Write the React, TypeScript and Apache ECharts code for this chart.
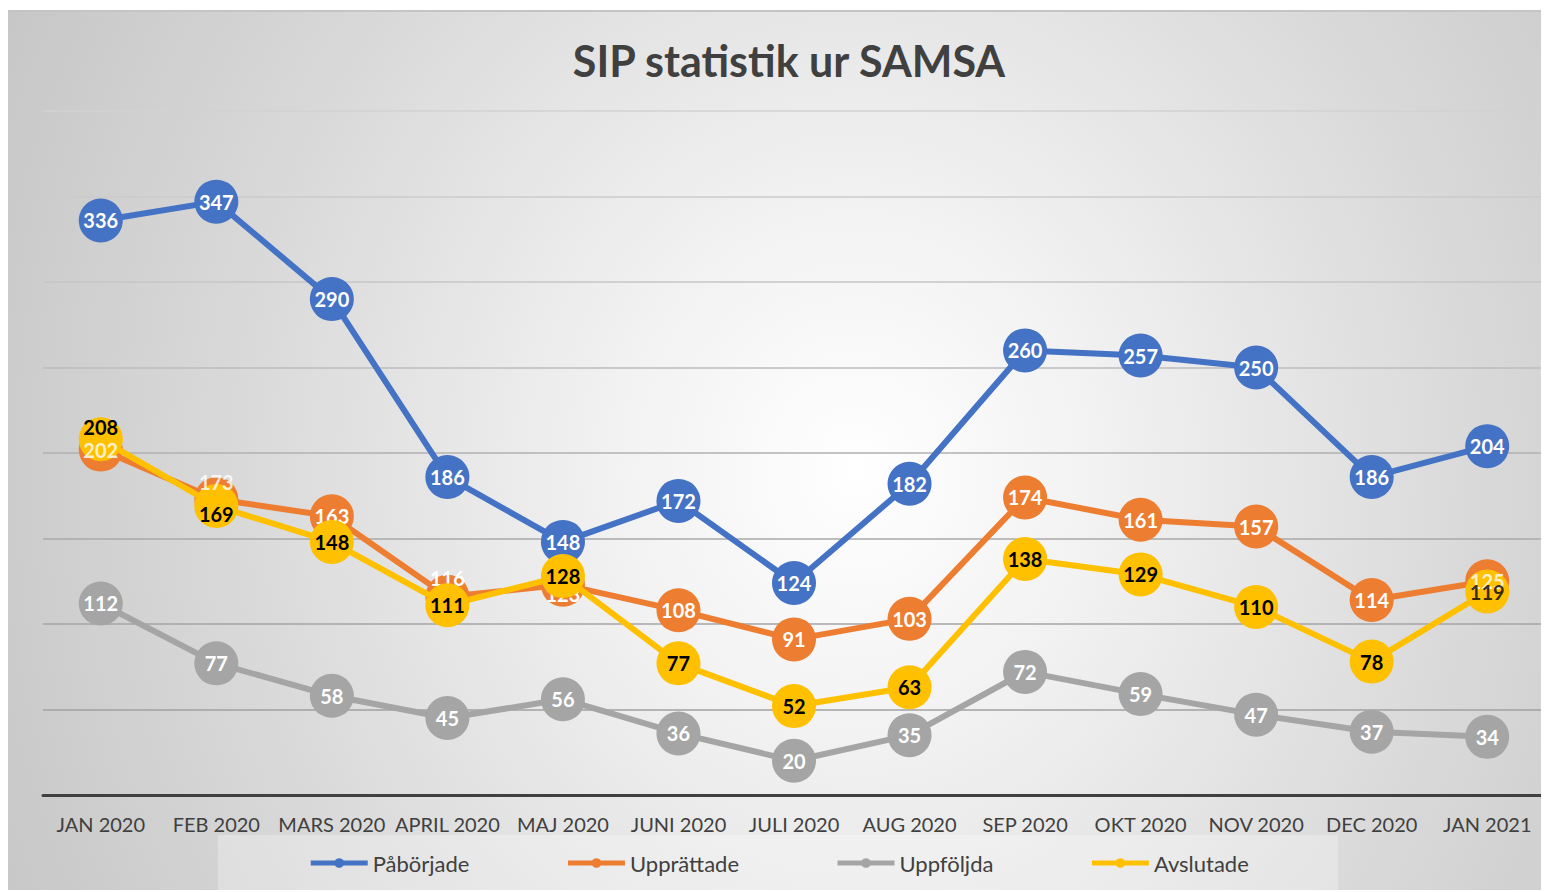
import React, { useEffect, useRef } from "react";
import * as echarts from "echarts";

const categories = [
  "JAN 2020", "FEB 2020", "MARS 2020", "APRIL 2020", "MAJ 2020", "JUNI 2020",
  "JULI 2020", "AUG 2020", "SEP 2020", "OKT 2020", "NOV 2020", "DEC 2020", "JAN 2021",
];
const paborjade = [336, 347, 290, 186, 148, 172, 124, 182, 260, 257, 250, 186, 204];
const upprattade = [202, 173, 163, 116, 123, 108, 91, 103, 174, 161, 157, 114, 125];
const uppfoljda = [112, 77, 58, 45, 56, 36, 20, 35, 72, 59, 47, 37, 34];
const avslutade = [208, 169, 148, 111, 128, 77, 52, 63, 138, 129, 110, 78, 119];

const yTicks = { min: 0, max: 400, interval: 50 };

// labels that Excel draws above the Avslutade markers (indices)
const upprattadeTopLabelIdx = [0, 1, 12];
const avslutadeTopLabelIdx = [12];

// label offsets (styling only) keyed by index
const upprattadeLabelOffsets: Record<number, [number, number]> = { 1: [0, -17], 3: [0, -19], 4: [0, 9] };
const avslutadeLabelOffsets: Record<number, [number, number]> = { 0: [0, -12], 1: [0, 8] };

const FONT = "Lato";

function withOffsets(values: number[], offsets: Record<number, [number, number]>, hideIdx: number[] = []) {
  return values.map((v, i) => {
    const label: any = {};
    if (offsets[i]) label.offset = offsets[i];
    if (hideIdx.includes(i)) label.show = false;
    return Object.keys(label).length ? { value: v, label } : v;
  });
}

export default function App() {
  const ref = useRef<HTMLDivElement>(null);
  useEffect(() => {
    if (!ref.current) return;
    const chart = echarts.init(ref.current, undefined, { renderer: "svg" });
    const labelBase = {
      show: true,
      position: "inside",
      fontFamily: FONT,
      fontWeight: "bold",
      fontSize: 20,
    };
    const mkSeries = (name: string, data: any[], color: string, labelColor: string, z: number) => ({
      name,
      type: "line",
      data,
      z,
      symbol: "circle",
      symbolSize: 44,
      lineStyle: { color, width: 6 },
      itemStyle: { color },
      label: { ...labelBase, color: labelColor },
      emphasis: { disabled: true },
    });
    const mkLabelOverlay = (name: string, values: number[], idx: number[], offsets: Record<number, [number, number]>, color: string, z: number) => ({
      name,
      type: "scatter",
      z,
      symbolSize: 1,
      itemStyle: { color: "rgba(0,0,0,0)" },
      silent: true,
      label: { ...labelBase, color },
      data: idx.map((i) => ({
        value: [i, values[i]],
        label: {
          ...labelBase,
          color,
          formatter: String(values[i]),
          offset: offsets[i] || [0, 0],
        },
      })),
    });
    chart.setOption({
      animation: false,
      backgroundColor: "transparent",
      textStyle: { fontFamily: FONT },
      title: {
        text: "SIP statistik ur SAMSA",
        left: 776,
        textAlign: "center",
        top: 22,
        textStyle: { fontFamily: FONT, fontWeight: "bold", fontSize: 43, color: "#404040" },
      },
      graphic: [
        {
          type: "rect",
          z: 0,
          silent: true,
          shape: { x: 210, y: 823, width: 1120, height: 60 },
          style: { fill: "rgba(255,255,255,0.28)" },
        },
      ],
      legend: {
        bottom: 13,
        left: "center",
        itemWidth: 57,
        itemHeight: 12,
        itemGap: 96,
        lineStyle: { width: 5 },
        textStyle: { fontFamily: FONT, fontSize: 22, color: "#404040" },
        data: ["Påbörjade", "Upprättade", "Uppföljda", "Avslutade"],
      },
      grid: { left: 35, right: 4, top: 99, bottom: 97, containLabel: false },
      xAxis: {
        type: "category",
        data: categories,
        boundaryGap: true,
        axisLine: { lineStyle: { color: "#404040", width: 3 } },
        axisTick: { show: false },
        axisLabel: { interval: 0, color: "#404040", fontSize: 20, fontFamily: FONT, margin: 19 },
      },
      yAxis: {
        type: "value",
        min: yTicks.min,
        max: yTicks.max,
        interval: yTicks.interval,
        axisLabel: { show: false },
        axisLine: { show: false },
        axisTick: { show: false },
        splitLine: {
          lineStyle: {
            width: 1.5,
            color: ["#a0a0a0", "#a0a0a0", "#a4a4a4", "#a8a8a8", "#b0b0b0", "#bdbdbd", "#c6c6c6", "#cbcbcb", "#d2d2d2"],
          },
        },
      },
      series: [
        mkSeries("Påbörjade", paborjade, "#4472C4", "#ffffff", 2),
        mkSeries("Upprättade", withOffsets(upprattade, upprattadeLabelOffsets, upprattadeTopLabelIdx), "#ED7D31", "#ffffff", 3),
        mkSeries("Uppföljda", uppfoljda, "#A5A5A5", "#ffffff", 4),
        mkSeries("Avslutade", withOffsets(avslutade, avslutadeLabelOffsets, avslutadeTopLabelIdx), "#FFC000", "#000000", 5),
        mkLabelOverlay("UpprättadeLabels", upprattade, upprattadeTopLabelIdx, upprattadeLabelOffsets, "#ffffff", 6),
        mkLabelOverlay("AvslutadeLabels", avslutade, avslutadeTopLabelIdx, avslutadeLabelOffsets, "#000000", 7),
      ],
    });
    return () => chart.dispose();
  }, []);
  return (
    <div
      style={{
        position: "relative",
        top: 2,
        width: 1541,
        height: 882,
        borderTop: "2px solid #c4c4c4",
        boxSizing: "border-box",
        background:
          "radial-gradient(ellipse 62% 120% at 55% 52%, #ffffff 0%, #f2f2f2 25%, #d9d9d9 65%, #c6c6c6 100%)",
      }}
    >
      <div ref={ref} style={{ width: 1541, height: 880 }} />
    </div>
  );
}
